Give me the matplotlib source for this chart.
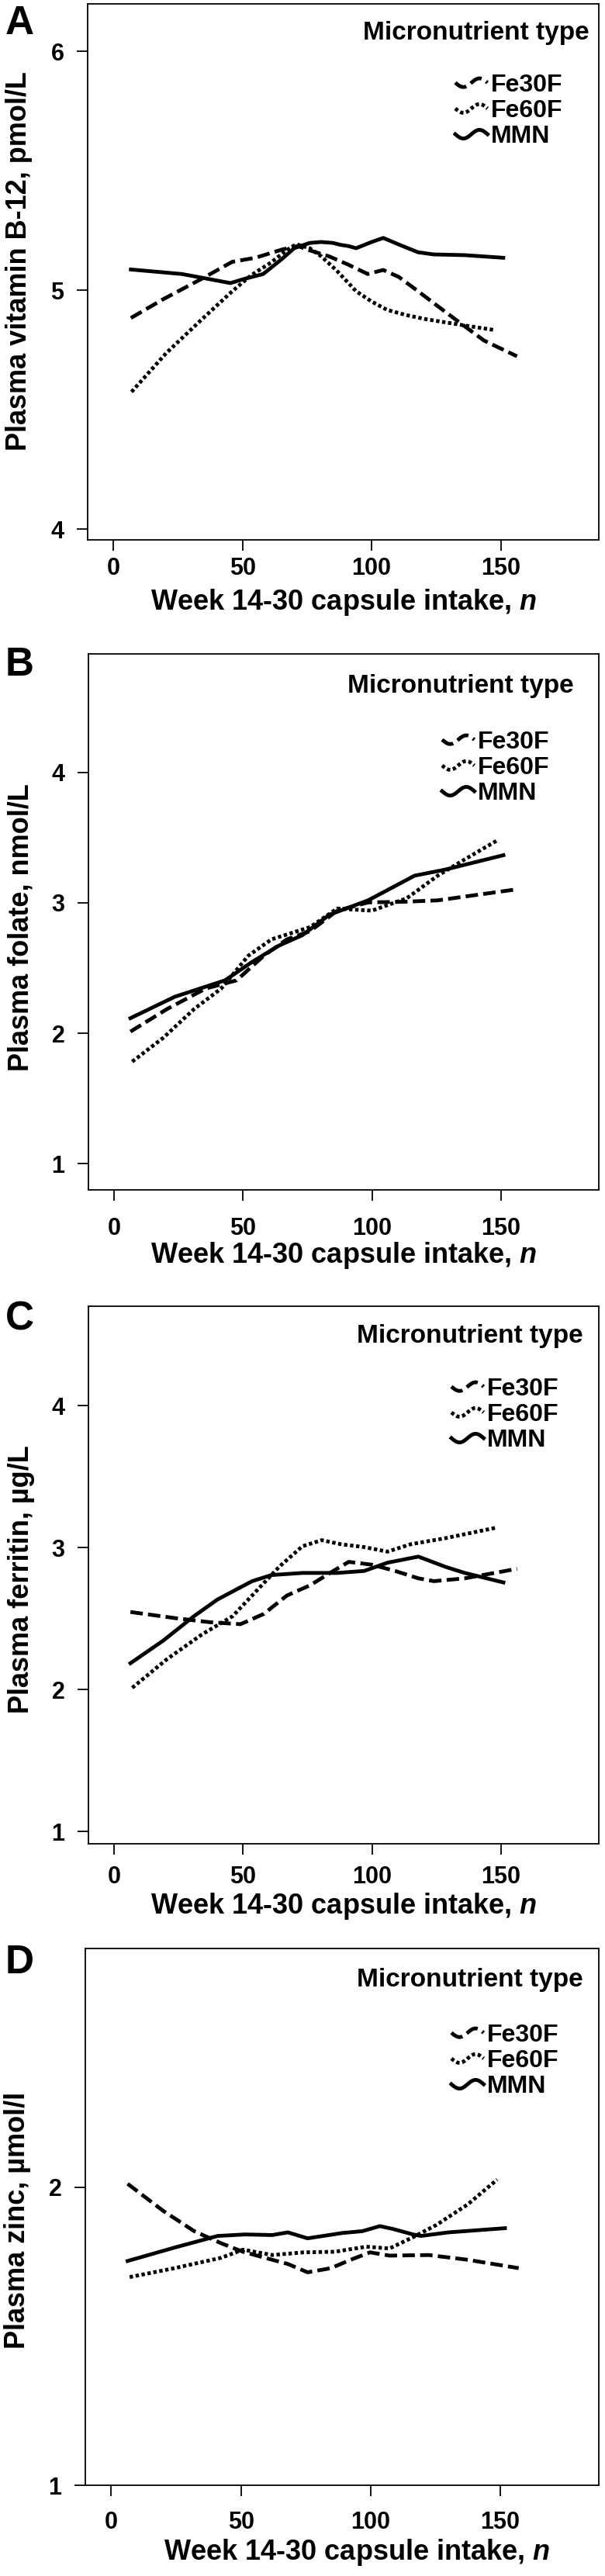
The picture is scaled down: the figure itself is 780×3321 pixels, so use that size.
import numpy as np
import matplotlib
matplotlib.use("Agg")
import matplotlib.pyplot as plt
from matplotlib.lines import Line2D
from matplotlib.legend_handler import HandlerBase

plt.rcParams['font.family'] = ['Liberation Sans', 'DejaVu Sans']
plt.rcParams['font.weight'] = 'bold'
plt.rcParams['mathtext.fontset'] = 'custom'
plt.rcParams['mathtext.it'] = 'Liberation Sans:italic:bold'
plt.rcParams['mathtext.rm'] = 'Liberation Sans:bold'

groups = ["Fe30F", "Fe60F", "MMN"]
x_ticks = [0, 50, 100, 150]

# A: plasma vitamin B-12
a_fe30_x = [6.75, 19, 34, 46, 55, 65.5, 71.5, 76, 83.5, 91, 98.5, 104.5, 110.5, 118, 128.5, 136, 143.5, 156.3]
a_fe30_y = [4.884, 4.961, 5.047, 5.119, 5.136, 5.171, 5.185, 5.167, 5.142, 5.107, 5.068, 5.085, 5.056, 4.996, 4.910, 4.850, 4.790, 4.724]
a_fe60_x = [7, 20.5, 34, 46, 53.5, 61, 67, 70.8, 76, 80.5, 86.5, 94, 100, 106, 113.5, 121, 136, 148]
a_fe60_y = [4.575, 4.738, 4.876, 4.996, 5.064, 5.116, 5.167, 5.193, 5.176, 5.142, 5.082, 4.996, 4.953, 4.918, 4.896, 4.879, 4.853, 4.833]
a_mmn_x = [6.75, 26.5, 37, 45.3, 50.5, 58, 65.5, 70, 76, 80.5, 85, 88, 91, 94, 100, 104.5, 112, 118, 124, 136, 151]
a_mmn_y = [5.087, 5.068, 5.047, 5.030, 5.047, 5.068, 5.133, 5.176, 5.198, 5.202, 5.198, 5.190, 5.185, 5.176, 5.202, 5.219, 5.185, 5.159, 5.150, 5.147, 5.136]

# B: plasma folate
b_fe30_x = [6.3, 20.5, 35.5, 47.5, 58, 67, 76, 86.5, 98.5, 113.5, 125.5, 156.3]
b_fe30_y = [2.013, 2.186, 2.343, 2.406, 2.594, 2.720, 2.783, 2.940, 3.003, 3.009, 3.019, 3.104]
b_fe60_x = [7, 19, 31, 41.5, 52, 61, 76, 86.5, 100, 113.5, 125.5, 136, 148.8]
b_fe60_y = [1.783, 1.965, 2.186, 2.343, 2.594, 2.720, 2.814, 2.956, 2.940, 3.035, 3.208, 3.333, 3.481]
b_mmn_x = [6.3, 23.5, 43, 53.5, 64, 73, 83.5, 98.5, 109, 116.5, 128.5, 151]
b_mmn_y = [2.116, 2.280, 2.406, 2.547, 2.673, 2.752, 2.909, 3.019, 3.129, 3.208, 3.255, 3.365]

# C: plasma ferritin
c_fe30_x = [6.3, 23.5, 37, 49, 58, 67, 76, 85, 91, 100, 109, 118, 124, 136, 156.3]
c_fe30_y = [2.546, 2.503, 2.474, 2.460, 2.532, 2.662, 2.734, 2.835, 2.899, 2.879, 2.835, 2.783, 2.763, 2.783, 2.850]
c_fe60_x = [7, 20.5, 34, 46, 55, 64, 73, 80.5, 88, 97, 106, 115, 128.5, 148]
c_fe60_y = [2.012, 2.214, 2.387, 2.517, 2.691, 2.864, 3.009, 3.052, 3.023, 3.003, 2.971, 3.023, 3.066, 3.139]
c_mmn_x = [6.3, 19, 31, 40, 46, 53.5, 61, 73, 86.5, 97, 106, 118, 128.5, 136, 151]
c_mmn_y = [2.185, 2.344, 2.517, 2.633, 2.691, 2.763, 2.806, 2.821, 2.821, 2.835, 2.893, 2.936, 2.864, 2.821, 2.754]

# D: plasma zinc
d_fe30_x = [6.3, 19.9, 32, 42.5, 50.8, 62.1, 68.1, 75.7, 84.7, 92.3, 99.8, 107.3, 122.4, 137.5, 157.1]
d_fe30_y = [2.011, 1.921, 1.852, 1.811, 1.783, 1.756, 1.742, 1.714, 1.728, 1.756, 1.781, 1.770, 1.772, 1.756, 1.728]
d_fe60_x = [7.1, 24.4, 42.5, 50.8, 62.1, 74.2, 86.2, 98.3, 107.3, 116.4, 125.4, 137.5, 148.8]
d_fe60_y = [1.698, 1.728, 1.763, 1.790, 1.772, 1.781, 1.783, 1.800, 1.794, 1.832, 1.873, 1.942, 2.025]
d_mmn_x = [6.3, 24.4, 41, 51.6, 62.1, 68.1, 75.7, 81.7, 89.2, 96.8, 103.6, 108.8, 116.4, 119.4, 130, 151.8]
d_mmn_y = [1.752, 1.797, 1.836, 1.841, 1.839, 1.848, 1.828, 1.836, 1.846, 1.852, 1.869, 1.859, 1.841, 1.836, 1.848, 1.862]

W, H = 780, 3321
fig = plt.figure(figsize=(W / 100, H / 100), dpi=100)


def fx(px):
    return px / W


def fy(py):
    return 1 - py / H


# legend keys drawn as little waves, like the original
class WavyHandler(HandlerBase):
    def create_artists(self, legend, orig_handle, xdescent, ydescent,
                       width, height, fontsize, trans):
        t = np.linspace(0, 1, 40)
        xs = -xdescent + t * width
        ys = -ydescent + height / 2 - 0.25 * height * np.sin(2 * np.pi * t)
        line = Line2D(xs, ys)
        self.update_prop(line, orig_handle, legend)
        line.set_transform(trans)
        return [line]


styles = [(0, (3.3, 1.4)), (0, (0.9, 0.7)), '-']

# box px (l, t, r, b), ylabel centre px, xlabel baseline px,
# legend title (right, cy), legend keys (left, cy), x tick pad, letter baseline
panels = [
    dict(letter="A", ylabel="Plasma vitamin B-12, pmol/L", yticks=[4, 5, 6], ylim=(3.956, 6.198),
         series=[(a_fe30_x, a_fe30_y), (a_fe60_x, a_fe60_y), (a_mmn_x, a_mmn_y)],
         box=(113, 5, 772, 696), ylab=(24, 337), xlab=(443, 786), title=(760, 42), leg=(587, 143),
         xpad=6, let=44),
    dict(letter="B", ylabel="Plasma folate, nmol/L", yticks=[1, 2, 3, 4], ylim=(0.80, 4.908),
         series=[(b_fe30_x, b_fe30_y), (b_fe60_x, b_fe60_y), (b_mmn_x, b_mmn_y)],
         box=(114, 843, 772, 1534), ylab=(27.5, 1196), xlab=(443, 1628), title=(740, 885), leg=(570, 990),
         xpad=15, let=871),
    dict(letter="C", ylabel="Plasma ferritin, µg/L", yticks=[1, 2, 3, 4], ylim=(0.913, 4.70),
         series=[(c_fe30_x, c_fe30_y), (c_fe60_x, c_fe60_y), (c_mmn_x, c_mmn_y)],
         box=(114, 1684, 772, 2377), ylab=(27.5, 2036), xlab=(443, 2467), title=(752, 1723), leg=(582, 1824),
         xpad=10, let=1714),
    dict(letter="D", ylabel="Plasma zinc, µmol/l", yticks=[1, 2], ylim=(1.0, 2.80),
         series=[(d_fe30_x, d_fe30_y), (d_fe60_x, d_fe60_y), (d_mmn_x, d_mmn_y)],
         box=(110, 2512, 772, 3204), ylab=(22.5, 2862), xlab=(460, 3300), title=(752, 2553), leg=(582, 2657),
         xpad=14, let=2544),
]

for p in panels:
    l, t, r, b = p["box"]
    ax = fig.add_axes([fx(l), fy(b), fx(r) - fx(l), fy(t) - fy(b)])

    for name, (xs, ys), ls in zip(groups, p["series"], styles):
        ax.plot(xs, ys, color="black", lw=3.5, linestyle=ls, label=name)

    ax.set_xlim(-10, 188)
    ax.set_ylim(*p["ylim"])
    ax.set_xticks(x_ticks)
    ax.set_yticks(p["yticks"])
    ax.tick_params(direction="out", length=10, width=1.3, labelsize=22)
    ax.tick_params(axis="x", pad=p["xpad"])
    ax.tick_params(axis="y", pad=12)
    for s in ax.spines.values():
        s.set_linewidth(1.3)

    ax.set_xlabel(r"Week 14-30 capsule intake, $n$", fontsize=26, fontweight="bold")
    ax.xaxis.set_label_coords((p["xlab"][0] - l) / (r - l), (b - p["xlab"][1]) / (b - t))
    ax.xaxis.label.set_va("baseline")

    ax.set_ylabel(p["ylabel"], fontsize=26, fontweight="bold")
    ax.yaxis.set_label_coords((p["ylab"][0] - l) / (r - l), (b - p["ylab"][1]) / (b - t))
    ax.yaxis.label.set_va("center")

    fig.text(fx(7), fy(p["let"]), p["letter"], fontsize=37, fontweight="bold", va="baseline")
    fig.text(fx(p["title"][0]), fy(p["title"][1]), "Micronutrient type", fontsize=24,
             fontweight="bold", ha="right", va="center")

    ax.legend(handler_map={Line2D: WavyHandler()}, loc="center left",
              bbox_to_anchor=(fx(p["leg"][0]), fy(p["leg"][1])), bbox_transform=fig.transFigure,
              frameon=False, fontsize=23, handlelength=1.3, handletextpad=0.15,
              labelspacing=0.1, borderpad=0, borderaxespad=0)

fig.savefig("out.png", dpi=100)
